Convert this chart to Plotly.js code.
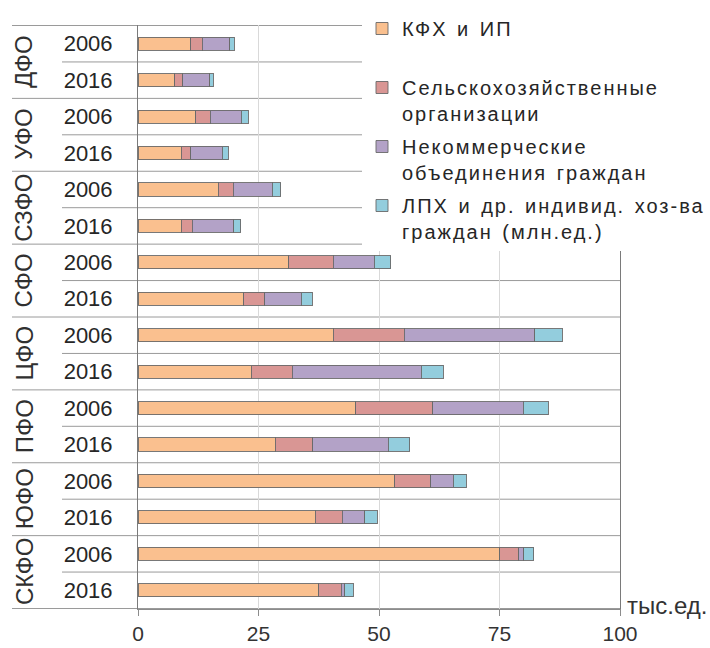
<!DOCTYPE html>
<html>
<head>
<meta charset="utf-8">
<script src="https://cdn.plot.ly/plotly-3.0.1.min.js"></script>
<style>
html,body{margin:0;padding:0;background:#fff;}
#chart{width:710px;height:648px;}
.legendtext{letter-spacing:2px;word-spacing:2px;}
</style>
</head>
<body>
<div id="chart"></div>
<script>
// Data
var districts = ['ДФО', 'УФО', 'СЗФО', 'СФО', 'ЦФО', 'ПФО', 'ЮФО', 'СКФО'];
var years = ['2006', '2016'];
var seriesNames = [
  'КФХ и ИП<br> ',
  'Сельскохозяйственные<br>организации',
  'Некоммерческие<br>объединения граждан',
  'ЛПХ и др. индивид. хоз-ва<br>граждан (млн.ед.)'
];
// values ordered: district × year (2006, 2016)
var kfh     = [10.9, 7.6, 12.0, 9.0, 16.6, 9.0, 31.3, 21.9, 40.5, 23.5, 45.2, 28.5, 53.3, 36.8, 75.0, 37.5];
var selhoz  = [2.4, 1.7, 3.0, 1.9, 3.2, 2.3, 9.2, 4.4, 14.7, 8.5, 16.0, 7.8, 7.4, 5.6, 4.0, 4.7];
var nekomm  = [5.7, 5.6, 6.4, 6.6, 8.1, 8.6, 8.5, 7.6, 27.1, 26.8, 18.7, 15.6, 4.7, 4.6, 1.0, 0.7];
var lph     = [1.0, 0.7, 1.5, 1.2, 1.7, 1.4, 3.4, 2.3, 5.7, 4.5, 5.2, 4.5, 2.7, 2.6, 2.1, 1.8];
var xTicks = [0, 25, 50, 75, 100];
var unitLabel = 'тыс.ед.';

var colors = ['#FAC08F', '#D99694', '#B3A2C7', '#93CDDD'];
var FONT = 'Arial, Liberation Sans, sans-serif';

var cats = [], catText = [];
districts.forEach(function (d) {
  years.forEach(function (y) { cats.push(d + ' ' + y); catText.push(y); });
});

var seriesVals = [kfh, selhoz, nekomm, lph];
var traces = seriesVals.map(function (vals, i) {
  return {
    type: 'bar', orientation: 'h',
    y: cats, x: vals, name: seriesNames[i],
    legendgroup: 'g' + i,
    marker: { color: colors[i], line: { color: 'rgba(105,105,105,0.9)', width: 1 } },
    hoverinfo: 'x+name'
  };
});

// separators (row boundaries), extended into the label area
var shapes = [];
var plotL = 138, plotW = 482;
for (var k = 0; k <= cats.length; k++) {
  var isGroup = (k % years.length === 0);
  shapes.push({
    type: 'line', xref: 'paper', yref: 'y',
    x0: isGroup ? (12 - plotL) / plotW : (62 - plotL) / plotW, x1: 1,
    y0: k - 0.5, y1: k - 0.5,
    line: { color: '#9a9a9a', width: 1 }, layer: 'below'
  });
}

var annotations = districts.map(function (d, g) {
  return {
    text: d, xref: 'paper', yref: 'y',
    x: (24 - plotL) / plotW, y: g * years.length + (years.length - 1) / 2,
    xanchor: 'center', yanchor: 'middle', textangle: -90, showarrow: false,
    font: { family: FONT, size: 24, color: '#303030' }
  };
});
annotations.push({
  text: unitLabel, xref: 'paper', yref: 'paper', x: 1, y: 0,
  xanchor: 'left', yanchor: 'middle', xshift: 5, yshift: 4, showarrow: false,
  font: { family: FONT, size: 24, color: '#333' }
});

var layout = {
  width: 710, height: 648,
  margin: { l: 138, r: 90, t: 25, b: 39, autoexpand: false },
  paper_bgcolor: '#fff', plot_bgcolor: '#fff',
  barmode: 'stack', bargap: 0.64,
  font: { family: FONT, color: '#333' },
  showlegend: true,
  legend: {
    x: (362 - plotL) / plotW, xanchor: 'left',
    y: 1 + 16 / 584, yanchor: 'top',
    bgcolor: '#fff', traceorder: 'grouped', tracegroupgap: 4, valign: 'top',
    font: { family: FONT, size: 20, color: '#262626' },
    itemclick: false
  },
  xaxis: {
    range: [0, 100], tickvals: xTicks, ticktext: xTicks.map(String),
    showgrid: true, gridcolor: '#d9d9d9', zeroline: false,
    showline: true, linecolor: '#8c8c8c', linewidth: 1,
    ticks: 'outside', ticklen: 6, tickcolor: '#8c8c8c',
    tickfont: { family: FONT, size: 21, color: '#333' },
    fixedrange: true
  },
  yaxis: {
    type: 'category', categoryorder: 'array', categoryarray: cats,
    tickvals: cats, ticktext: catText,
    autorange: 'reversed',
    showgrid: false, zeroline: false,
    showline: true, linecolor: '#7a7a7a', linewidth: 1, mirror: true,
    ticks: '', ticklabelstandoff: 20,
    tickfont: { family: FONT, size: 22, color: '#262626' },
    fixedrange: true
  },
  shapes: shapes,
  annotations: annotations
};

Plotly.newPlot('chart', traces, layout, { displayModeBar: false, staticPlot: true });
</script>
</body>
</html>
